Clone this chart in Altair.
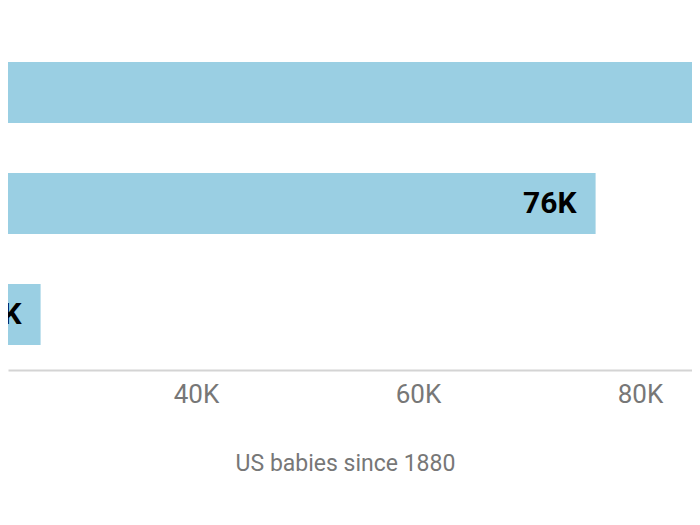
import altair as alt
import pandas as pd

names = ["Name A", "Name B", "Name C"]
babies = [98000, 76000, 26000]
labels = ["98K", "76K", "26K"]
tick_values = [40000, 60000, 80000]

df = pd.DataFrame({"name": names, "babies": babies, "label": labels})

x_scale = alt.Scale(domain=[23063, 84685], nice=False, zero=False)
y_enc = alt.Y("name:N", sort=names, axis=None,
              scale=alt.Scale(paddingInner=0.45, paddingOuter=0.225))

bars = alt.Chart(df).mark_bar(color="#9ACFE3", clip=True).encode(
    x=alt.X("babies:Q", scale=x_scale,
            axis=alt.Axis(values=tick_values,
                          labelExpr="datum.value / 1000 + 'K'",
                          title="US babies since 1880",
                          grid=False, ticks=False, domain=True,
                          domainColor="#d4d4d4", domainWidth=2,
                          labelFont="Roboto", labelFontSize=26,
                          labelColor="#777777", labelPadding=11,
                          titleFont="Roboto", titleFontSize=23,
                          titleFontWeight="normal", titleColor="#777777",
                          titlePadding=45, titleX=337, titleAlign="center",
                          titleAnchor="start")),
    y=y_enc,
)

text = alt.Chart(df).mark_text(align="right", baseline="middle", dx=-19,
                               font="Roboto", fontSize=30, fontWeight="bold",
                               color="black", clip=True).encode(
    x=alt.X("babies:Q", scale=x_scale),
    y=alt.Y("name:N", sort=names, axis=None),
    text="label:N",
)

chart = alt.layer(bars, text).properties(
    width=684, height=333,
    autosize=alt.AutoSizeParams(type="none"),
    padding={"left": 0, "top": 29, "right": 0, "bottom": 140},
).configure_view(stroke=None)

chart.save("out.html", embed_options={"renderer": "svg", "actions": False})
